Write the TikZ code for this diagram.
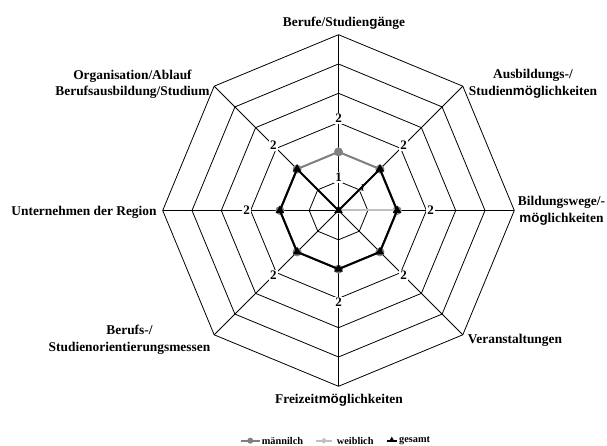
\documentclass[tikz,border=0pt]{standalone}
\usepackage{fontspec}
\setmainfont{Liberation Serif}
\newfontfamily\sansbold{Liberation Sans}
\usetikzlibrary{shapes.geometric}
\definecolor{mgray}{RGB}{128,128,128}
\definecolor{wgray}{RGB}{192,192,192}
\newcommand\arialpart[1]{{\sansbold\bfseries #1}}
\newcommand\lblfont{\fontsize{13.4}{16.3}\selectfont\bfseries}
\newcommand\datfont{\fontsize{13}{15}\selectfont\bfseries}
\newcommand\legfont{\fontsize{10.3}{12}\selectfont\bfseries}
\tikzset{
  ring/.style={draw=black, line width=0.8pt, line join=miter},
  axisline/.style={draw=black, line width=0.8pt},
  mline/.style={draw=mgray, line width=2pt, line join=round},
  wline/.style={draw=wgray, line width=2pt, line join=round},
  gline/.style={draw=black, line width=2pt, line join=round},
  lbl/.style={font=\lblfont, align=center, inner sep=0pt},
  dlabel/.style={font=\datfont, fill=white, inner sep=1pt},
  mmark/.style={circle, fill=mgray, minimum size=9pt, inner sep=0pt},
  wmark/.style={diamond, fill=wgray, minimum size=7pt, inner sep=0pt},
  gmark/.style={regular polygon, regular polygon sides=3, fill=black, minimum size=10pt, inner sep=0pt},
  legtext/.style={font=\legfont, anchor=west, inner sep=0pt},
}
\begin{document}
\begin{tikzpicture}[x=1pt,y=1pt]
\useasboundingbox (0,0) rectangle (607,446);
\begin{scope}[shift={(338.5,235.5)}]
  \coordinate (c) at (0,0);
  \foreach \a [count=\i] in {90,45,0,-45,-90,-135,180,135}{
    \coordinate (o\i) at (\a:175.8);
    \coordinate (d\i) at (\a:58.6);
    \coordinate (l\i) at (\a:92);
  }
  % rings
  \foreach \k [evaluate=\k as \rr using \k*29.3] in {1,...,6}{
    \draw[ring] (90:\rr) -- (45:\rr) -- (0:\rr) -- (-45:\rr) -- (-90:\rr) -- (-135:\rr) -- (180:\rr) -- (135:\rr) -- cycle;
  }
  % axes
  \foreach \i in {1,...,8}{ \draw[axisline] (c) -- (o\i); }
  % data labels
  \foreach \i in {1,...,8}{ \node[dlabel] (v\i) at (l\i) {2}; }
  \node[dlabel] (t1) at (90:33) {1};
  \node[dlabel, font=\fontsize{10}{12}\selectfont\bfseries, inner sep=0.5pt, rotate=-10] (t2) at (43:33) {1};
  % männlich
  \draw[mline] (d1) -- (d2) -- (d3) -- (d4) -- (d5) -- (d6) -- (d7) -- (d8) -- cycle;
  \foreach \i in {1,...,8}{ \node[mmark] (mm\i) at (d\i) {}; }
  % weiblich
  \draw[wline] (c) -- (d3);
  \node[wmark] (wc) at (c) {};
  \node[wmark] (w3) at (d3) {};
  % gesamt
  \draw[gline] (c) -- (d2) -- (d3) -- (d4) -- (d5) -- (d6) -- (d7) -- (d8) -- cycle;
  \node[gmark] (gc) at (c) {};
  \foreach \i in {2,...,8}{ \node[gmark] (gm\i) at (d\i) {}; }
\end{scope}
% category labels
\node[lbl] (cat1) at (344,422.7) {Berufe/Studien\arialpart{gä}nge};
\node[lbl] (cat2) at (533,362.3) {Ausbildungs-/\\Studien\arialpart{mög}lichkeiten};
\node[lbl] (cat3) at (561.5,235.3) {Bildungswege/-\\\arialpart{mög}lichkeiten};
\node[lbl] (cat4) at (515,106) {Veranstaltungen};
\node[lbl] (cat5) at (339,46) {Freizeit\arialpart{mög}lichkeiten};
\node[lbl] (cat6) at (129.5,106.3) {Berufs-/\\Studienorientierungsmessen};
\node[lbl] (cat7) at (84,234) {Unternehmen der Region};
\node[lbl] (cat8) at (132.5,361.8) {Organisation/Ablauf\\Berufsausbildung/Studium};
% legend
\coordinate (la1) at (240.7,5.3); \coordinate (lb1) at (260,5.3);
\coordinate (la2) at (316,5.3);   \coordinate (lb2) at (331.7,5.3);
\coordinate (la3) at (386.7,5.3); \coordinate (lb3) at (397,5.3);
\draw[mline] (la1) -- (lb1);
\node[mmark, minimum size=6pt] (lm1) at (250.3,5.3) {};
\node[legtext] (lt1) at (261.7,5.3) {männilch};
\draw[wline] (la2) -- (lb2);
\node[wmark, minimum size=6pt] (lm2) at (323.8,5.3) {};
\node[legtext] (lt2) at (336.7,5.3) {weiblich};
\draw[gline] (la3) -- (lb3);
\node[gmark, minimum size=7pt] (lm3) at (391.8,5.8) {};
\node[legtext] (lt3) at (399,5.3) {gesamt};
\end{tikzpicture}
\end{document}
